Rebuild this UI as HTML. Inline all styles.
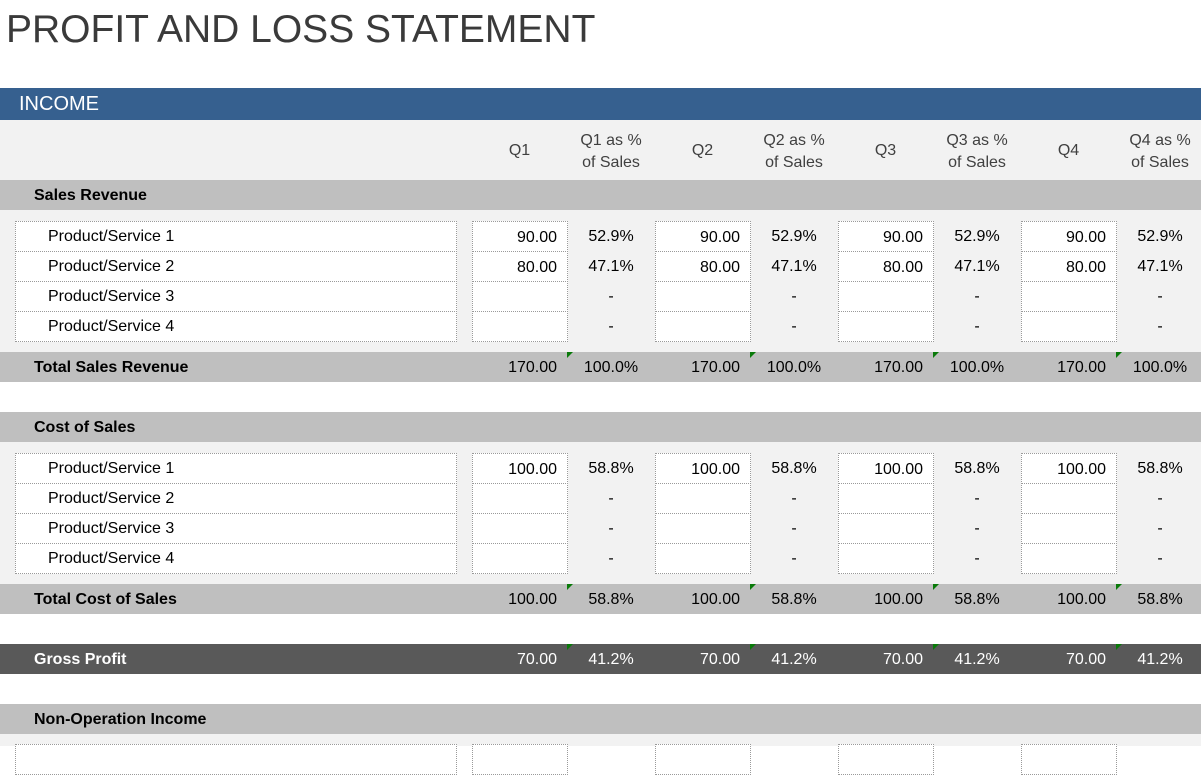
<!DOCTYPE html>
<html><head><meta charset="utf-8">
<style>
body{margin:0;width:1201px;height:746px;overflow:hidden;background:#fff;font-family:"Liberation Sans",sans-serif;position:relative}
.a{position:absolute;box-sizing:border-box}
.t{position:absolute;white-space:nowrap;font-size:16px;color:#000}
.box{position:absolute;box-sizing:border-box;background:#fff;border:1px dotted #9a9a9a}
.tri{position:absolute;width:0;height:0;border-top:6px solid #0a7a0a;border-right:6px solid transparent}
</style></head><body>
<div class="t" style="left:6px;top:8px;font-size:39px;color:#3a3a3a">PROFIT AND LOSS STATEMENT</div>
<div class="a" style="left:0;top:88px;width:1201px;height:32px;background:#36608f"></div>
<div class="t" style="left:19px;top:93px;font-size:20px;color:#fff">INCOME</div>
<div id="root"></div>
<script>
const quarters=["Q1","Q2","Q3","Q4"];
const salesVals=[[90,90,90,90],[80,80,80,80],[null,null,null,null],[null,null,null,null]];
const costVals=[[100,100,100,100],[null,null,null,null],[null,null,null,null],[null,null,null,null]];
const products=["Product/Service 1","Product/Service 2","Product/Service 3","Product/Service 4"];
const root=document.body;
function el(cls,style,text){const d=document.createElement('div');d.className=cls;d.style.cssText=style;if(text!==undefined)d.textContent=text;root.appendChild(d);return d;}
function colX(i){return 472+183*i;}
// header
let h=el('a','left:0;top:120px;width:1201px;height:60px;background:#f2f2f2');


quarters.forEach((q,i)=>{
 let a=el('t',`left:${colX(i)}px;top:142px;width:95px;text-align:center;color:#404040`,q);
 
 
 let b=el('t',`left:${colX(i)+95}px;top:130px;width:88px;text-align:center;color:#404040;line-height:22px`,'');
 b.innerHTML=q+' as %<br>of Sales';
 
 
});
function fmt(v){return v.toFixed(2);}
function section(top,title,vals,totalTitle){
 let s=el('a',`left:0;top:${top}px;width:1201px;height:30px;background:#bfbfbf`);
 
 
 let st=el('t',`left:34px;top:${top+7}px;font-weight:bold`,title);
 
 
 let g=el('a',`left:0;top:${top+30}px;width:1201px;height:142px;background:#f2f2f2`);
 
 
 const tot=[0,0,0,0];const salesTot=[0,0,0,0];
 salesVals.forEach(r=>r.forEach((v,i)=>salesTot[i]+=v||0));
 vals.forEach((r,ri)=>{
  const y=top+41+ri*30;
  let lb=el('box',`left:15px;top:${y}px;width:442px;height:31px`);
  
  
  let lt=el('t',`left:48px;top:${y+7}px`,products[ri]);
  
  
  r.forEach((v,i)=>{
   tot[i]+=v||0;
   let c=el('box',`left:${colX(i)}px;top:${y}px;width:96px;height:31px;text-align:right;padding:7px 10px 0 0;font-size:16px`,v==null?'':fmt(v));
   
   
   let p=el('t',`left:${colX(i)+95}px;top:${y+7}px;width:88px;text-align:center`,v==null?'-':(v/salesTot[i]*100).toFixed(1)+'%');
   
   
  });
 });
 const ty=top+172;
 let tb=el('a',`left:0;top:${ty}px;width:1201px;height:30px;background:#bfbfbf`);
 
 
 let tt=el('t',`left:34px;top:${ty+7}px;font-weight:bold`,totalTitle);
 
 
 tot.forEach((v,i)=>{
  let a=el('t',`left:${colX(i)}px;top:${ty+7}px;width:85px;text-align:right`,fmt(v));
  
  
  let tr=el('tri',`left:${colX(i)+95}px;top:${ty}px`);
  
  
  let p=el('t',`left:${colX(i)+95}px;top:${ty+7}px;width:88px;text-align:center`,(v/salesTot[i]*100).toFixed(1)+'%');
  
  
 });
 return tot;
}
const st=section(180,'Sales Revenue',salesVals,'Total Sales Revenue');
const ct=section(412,'Cost of Sales',costVals,'Total Cost of Sales');
let gb=el('a','left:0;top:644px;width:1201px;height:30px;background:#595959');


let gl=el('t','left:34px;top:651px;font-weight:bold;color:#fff','Gross Profit');


st.forEach((v,i)=>{
 const g=v-ct[i];
 let a=el('t',`left:${colX(i)}px;top:651px;width:85px;text-align:right;color:#fff`,fmt(g));
 
 
 let tr=el('tri',`left:${colX(i)+95}px;top:644px`);
 
 
 let p=el('t',`left:${colX(i)+95}px;top:651px;width:88px;text-align:center;color:#fff`,(g/v*100).toFixed(1)+'%');
 
 
});
let nb=el('a','left:0;top:704px;width:1201px;height:30px;background:#bfbfbf');


let nl=el('t','left:34px;top:711px;font-weight:bold','Non-Operation Income');


let nf=el('a','left:0;top:734px;width:1201px;height:12px;background:#f2f2f2');


let nbx=el('box','left:15px;top:744px;width:442px;height:31px');


quarters.forEach((q,i)=>{
 let c=el('box',`left:${colX(i)}px;top:744px;width:96px;height:31px`);
 
 
});
</script>
</body></html>
